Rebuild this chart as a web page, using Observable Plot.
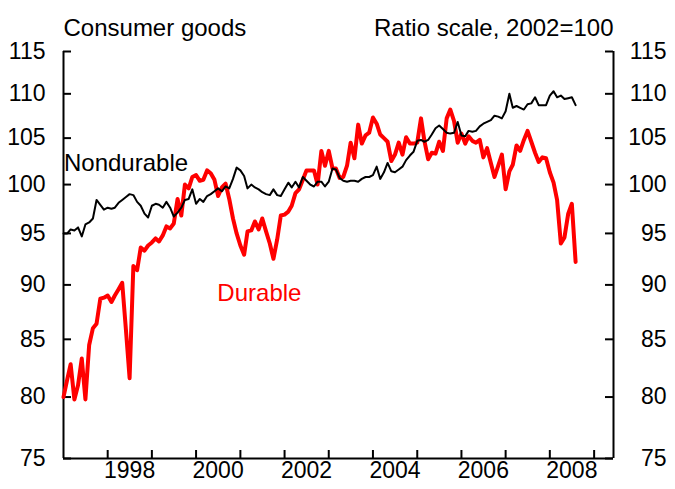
<!DOCTYPE html>
<html><head><meta charset="utf-8">
<script src="https://cdn.jsdelivr.net/npm/d3@7"></script>
<script src="https://cdn.jsdelivr.net/npm/@observablehq/plot@0.6"></script>
<style>body{margin:0;background:#fff;} svg{display:block;}</style>
</head><body><div id="chart"></div>
<script>
// Monthly index values, Jan 1997 .. Aug 2008 (ratio scale, 2002=100)
const startYear = 1997;
const durable = [
  80.0, 81.5, 82.8, 79.8, 81.0, 83.3, 79.8, 84.5, 86.0, 86.4, 88.7, 88.8,
  89.0, 88.4, 89.0, 89.6, 90.2, 85.8, 81.6, 91.8, 91.4, 93.6, 93.3, 93.8,
  94.1, 94.5, 94.2, 94.8, 95.7, 95.5, 96.0, 98.5, 96.8, 100.0, 99.6, 100.8,
  101.0, 100.4, 100.5, 101.5, 101.2, 100.5, 98.8, 99.7, 100.1, 98.5, 96.5, 95.0,
  93.8, 92.9, 95.2, 95.3, 96.2, 95.4, 96.5, 95.2, 94.0, 92.5, 94.4, 96.8,
  96.9, 97.2, 97.8, 99.1, 99.5, 100.5, 101.5, 101.5, 101.5, 100.0, 103.6, 102.0,
  103.6, 101.7, 101.7, 100.7, 100.8, 102.0, 104.5, 102.8, 106.5, 104.4, 105.3, 105.6,
  107.3, 106.6, 105.4, 105.0, 104.6, 102.5, 103.2, 104.5, 103.2, 105.1, 104.4, 104.4,
  104.5, 107.2, 104.7, 102.7, 103.4, 103.3, 104.6, 103.6, 107.2, 108.2, 106.9, 104.5,
  105.5, 104.4, 105.2, 104.7, 104.5, 104.8, 102.9, 103.9, 102.3, 100.8, 102.0, 103.2,
  99.5, 101.4, 102.1, 104.2, 103.6, 104.8, 105.8, 104.6, 103.4, 102.4, 102.9, 102.8,
  101.3, 100.2, 98.4, 94.0, 94.6, 97.0, 98.0, 92.2
];
const nondurable = [
  95.0, 95.0, 95.4, 95.3, 95.6, 94.7, 95.9, 96.1, 96.5, 98.4, 97.9, 97.4,
  97.6, 97.5, 97.6, 98.1, 98.4, 98.7, 99.0, 98.9, 98.2, 97.8, 97.0, 96.6,
  97.8, 98.0, 97.9, 97.6, 98.2, 97.6, 96.7, 97.1, 97.6, 98.4, 98.5, 99.5,
  98.0, 98.5, 98.2, 98.8, 99.0, 99.3, 99.6, 99.3, 99.8, 99.6, 100.6, 101.8,
  101.5, 100.9, 99.6, 100.0, 99.7, 99.5, 99.2, 99.0, 98.9, 99.5, 98.9, 98.8,
  99.5, 100.2, 99.7, 100.3, 99.7, 100.8, 100.4, 100.0, 99.8, 100.3, 100.3, 99.8,
  100.3, 101.7, 101.6, 100.7, 100.4, 100.3, 100.4, 100.4, 100.3, 100.6, 100.8, 100.8,
  101.0, 101.9, 100.6, 101.3, 102.3, 101.4, 101.3, 101.6, 101.9, 102.6, 103.1, 103.5,
  104.7, 104.8, 104.6, 104.8, 105.4, 106.1, 106.4, 106.0, 105.6, 105.5, 105.6, 106.8,
  105.3, 105.2, 105.8, 105.7, 105.8, 106.3, 106.6, 106.8, 107.0, 107.5, 107.4, 107.2,
  108.0, 110.0, 108.4, 108.6, 108.4, 108.2, 108.8, 108.9, 109.6, 108.7, 108.7, 108.7,
  109.8, 110.3, 109.6, 109.8, 109.4, 109.5, 109.6, 108.7
];
const yTicks = [75, 80, 85, 90, 95, 100, 105, 110, 115];
const tickYears = [1998, 1999, 2000, 2001, 2002, 2003, 2004, 2005, 2006, 2007, 2008, 2009];
const labelYears = [1998, 2000, 2002, 2004, 2006, 2008];
const titleLeft = "Consumer goods";
const titleRight = "Ratio scale, 2002=100";

const monthDate = i => new Date(Date.UTC(startYear, i, 1));
const rows = durable.map((d, i) => ({date: monthDate(i), durable: d, nondurable: nondurable[i]}));

const W = 675, H = 489, mL = 63, mR = 62, mT = 51, mB = 31;
const fw = W - mL - mR, fh = H - mT - mB;
const xDomain = [new Date(Date.UTC(1997, 0, 1)), new Date(Date.UTC(2009, 5, 10))];
const font = "Liberation Sans, Arial, Helvetica, sans-serif";
const fsTick = 23, fsLabel = 24;

const chart = Plot.plot({
  width: W, height: H,
  marginLeft: mL, marginRight: mR, marginTop: mT, marginBottom: mB,
  style: {fontFamily: font, background: "white", overflow: "visible"},
  x: {type: "utc", domain: xDomain, axis: null},
  y: {type: "log", domain: [75, 115], axis: null},
  marks: [
    Plot.ruleX(xDomain, {stroke: "black", strokeWidth: 2}),
    Plot.ruleY([75], {stroke: "black", strokeWidth: 2}),
    Plot.ruleY(yTicks, {stroke: "black", strokeWidth: 2, insetRight: fw - 8}),
    Plot.ruleY(yTicks, {stroke: "black", strokeWidth: 2, insetLeft: fw - 8}),
    Plot.ruleX(tickYears.map(y => new Date(Date.UTC(y, 0, 1))), {stroke: "black", strokeWidth: 2, insetTop: fh - 8}),
    Plot.line(rows, {x: "date", y: "durable", stroke: "#ff0000", strokeWidth: 4}),
    Plot.line(rows, {x: "date", y: "nondurable", stroke: "black", strokeWidth: 2}),
    Plot.text(yTicks, {y: d => d, text: d => String(d), frameAnchor: "left", textAnchor: "end", dx: -18, fontSize: fsTick, fill: "black"}),
    Plot.text(yTicks, {y: d => d, text: d => String(d), frameAnchor: "right", textAnchor: "end", dx: 53, fontSize: fsTick, fill: "black"}),
    Plot.text(labelYears, {x: d => new Date(Date.UTC(d, 6, 1)), text: d => String(d), frameAnchor: "bottom", lineAnchor: "top", dy: 3, fontSize: fsTick, fill: "black"}),
    Plot.text([titleLeft], {frameAnchor: "top-left", textAnchor: "start", dy: -33, fontSize: fsLabel, fill: "black"}),
    Plot.text([titleRight], {frameAnchor: "top-right", textAnchor: "end", dy: -33, fontSize: fsLabel, fill: "black"}),
    Plot.text(["Nondurable"], {x: () => new Date(Date.UTC(1997, 0, 5)), y: () => 102.3, textAnchor: "start", fontSize: fsLabel, fill: "black"}),
    Plot.text(["Durable"], {x: () => new Date(Date.UTC(2000, 5, 25)), y: () => 89.2, textAnchor: "start", fontSize: fsLabel, fill: "#ff0000"})
  ]
});
document.getElementById("chart").appendChild(chart);
</script>
</body></html>
